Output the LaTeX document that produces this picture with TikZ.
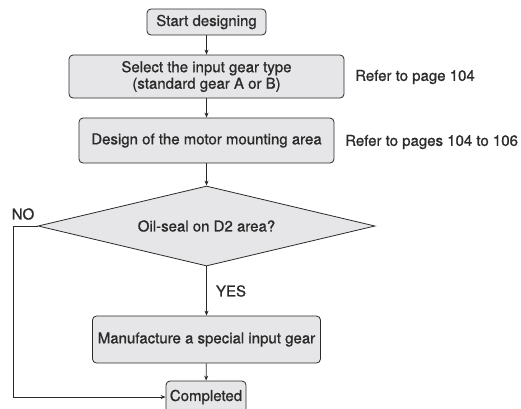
\documentclass[tikz,border=0pt]{standalone}
\usepackage{fontspec}
\setmainfont{TeX Gyre Heros}[RawFeature={embolden=0.9}]
\usetikzlibrary{positioning,shapes.geometric,arrows.meta}
\definecolor{boxgrey}{HTML}{E6E6E8}
\definecolor{inkgrey}{HTML}{2A2A2A}

\tikzset{
  flow/.style={draw=inkgrey,fill=boxgrey,line width=0.8pt,text=inkgrey,
    font=\fontsize{15}{16.5}\selectfont,inner sep=0pt},
  stepbox/.style={flow,rounded corners=4pt,align=center},
  test/.style={flow,diamond,aspect=4.2},
  note/.style={text=inkgrey,font=\fontsize{15}{16.5}\selectfont,inner sep=0pt},
  link/.style={draw=inkgrey,line width=0.8pt,-{Stealth[length=5pt,width=4pt]}}
}

\begin{document}
\begin{tikzpicture}[x=1pt,y=-1pt]
\useasboundingbox (0,0) rectangle (521,408);
\node[stepbox,minimum width=119,minimum height=26] (start) at (206.5,22) {Start designing};
\node[stepbox,minimum width=275,minimum height=43] (select) at (206.5,76.5) {Select the input gear type\\(standard gear A or B)};
\node[stepbox,minimum width=255,minimum height=45] (design) at (206.5,140.5) {Design of the motor mounting area};
\node[test,minimum width=337,minimum height=80] (oil) at (206.5,226) {Oil-seal on D2 area?};
\node[stepbox,minimum width=228,minimum height=47] (make) at (206.5,339.5) {Manufacture a special input gear};
\node[stepbox,minimum width=80,minimum height=32] (done) at (206,397) {Completed};
\node[note,anchor=west] (ref1) at (355,77) {Refer to page 104};
\node[note,anchor=west] (ref2) at (345,142) {Refer to pages 104 to 106};
\node[note] (no) at (23,214) {NO};
\node[note] (yes) at (231,291) {YES};
\coordinate (bend) at (13,226);

\draw[link] (start) -- (select);
\draw[link] (select) -- (design);
\draw[link] (design) -- (oil);
\draw[link] (oil) -- (make);
\draw[link] (make) -- (done);
\draw[link] (oil.west) -- (bend) |- (done.west);
\end{tikzpicture}
\end{document}
